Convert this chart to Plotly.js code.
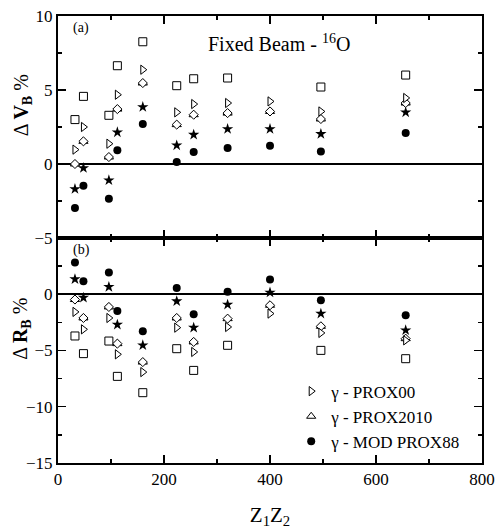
<!DOCTYPE html>
<html>
<head>
<meta charset="utf-8">
<script src="https://cdn.plot.ly/plotly-3.0.1.min.js"></script>
<style>html,body{margin:0;padding:0;background:#fff;}#chart{width:495px;height:529px;}</style>
</head>
<body>
<div id="chart"></div>
<script>
// Z1Z2 values (16O beam on various targets)
const z1z2 = [32, 48, 96, 112, 160, 224, 256, 320, 400, 496, 656];

// Panel (a): Delta V_B %
const vSquare   = [3.0, 4.57, 3.29, 6.64, 8.26, 5.29, 5.76, 5.81, null, 5.2, 6.01];
const vProx00   = [0.97, 2.5, 1.37, 4.68, 6.37, 3.49, 4.05, 4.12, 4.23, 3.55, 4.46];
const vProx2010 = [0.0, 1.53, 0.47, 3.71, 5.47, 2.66, 3.33, 3.44, 3.55, 3.04, 4.12];
const vDiamond  = [0.0, 1.53, 0.47, 3.71, 5.47, 2.66, 3.33, 3.44, 3.55, 3.04, 4.12];
const vStar     = [-1.69, -0.27, -1.1, 2.14, 3.85, 1.26, 1.98, 2.36, 2.36, 2.03, 3.49];
const vMod88    = [-2.97, -1.47, -2.35, 0.92, 2.7, 0.13, 0.81, 1.08, 1.24, 0.85, 2.09];

// Panel (b): Delta R_B %
const rSquare   = [-3.71, -5.28, -4.16, -7.3, -8.75, -4.84, -6.77, -4.54, null, -4.99, -5.73];
const rProx00   = [-1.57, -3.12, -2.11, -5.34, -6.92, -2.97, -5.13, -2.91, -1.72, -3.44, -4.1];
const rProx2010 = [-0.47, -2.11, -1.13, -4.39, -6.03, -2.11, -4.24, -2.17, -0.98, -2.85, -3.95];
const rDiamond  = [-0.47, -2.11, -1.13, -4.39, -6.03, -2.11, -4.24, -2.17, -0.98, -2.85, -3.95];
const rStar     = [1.34, -0.3, 0.65, -2.7, -4.54, -0.62, -2.97, -0.92, 0.15, -1.72, -3.2];
const rMod88    = [2.82, 1.16, 1.93, -1.48, -3.3, 0.56, -1.78, 0.21, 1.31, -0.53, -1.87];

const names = ['γ - PROX00', 'γ - PROX2010', 'γ - MOD PROX88'];
const tickX = [0, 200, 400, 600, 800];

const openM = (sym, size) => ({symbol: sym, size: size, color: 'white', line: {color: 'black', width: 1}});
const fillM = (sym, size) => ({symbol: sym, size: size, color: 'black', line: {color: 'black', width: 0}});

function panel(xa, ya, sq, p00, p2010, dia, st, m88, showLeg) {
  return [
    {x: z1z2, y: sq, xaxis: xa, yaxis: ya, mode: 'markers', marker: openM('square', 8), showlegend: false},
    {x: z1z2, y: p2010, xaxis: xa, yaxis: ya, mode: 'markers', marker: openM('triangle-up', 8), name: names[1], legendrank: 2, showlegend: showLeg},
    {x: z1z2, y: dia, xaxis: xa, yaxis: ya, mode: 'markers', marker: openM('diamond', 7), showlegend: false},
    {x: z1z2, y: p00, xaxis: xa, yaxis: ya, mode: 'markers', marker: openM('triangle-right', 8), name: names[0], legendrank: 1, showlegend: showLeg},
    {x: z1z2, y: st, xaxis: xa, yaxis: ya, mode: 'markers', marker: fillM('star', 8.5), showlegend: false},
    {x: z1z2, y: m88, xaxis: xa, yaxis: ya, mode: 'markers', marker: fillM('circle', 8), name: names[2], legendrank: 3, showlegend: showLeg}
  ];
}

const data = [].concat(
  panel('x2', 'y2', vSquare, vProx00, vProx2010, vDiamond, vStar, vMod88, false),
  panel('x', 'y', rSquare, rProx00, rProx2010, rDiamond, rStar, rMod88, true)
);

const FAM = '"Liberation Serif", "Times New Roman", "DejaVu Serif", serif';
const F = (size) => ({family: FAM, size: size, color: 'black'});
const axBase = {
  showline: true, linewidth: 2, linecolor: 'black', mirror: 'ticks',
  ticks: 'inside', ticklen: 8, tickwidth: 1.5, tickcolor: 'black',
  showgrid: false, zeroline: false,
  tickfont: F(17)
};
const minorX = {dtick: 100, ticklen: 4, tickwidth: 1.5, ticks: 'inside', tickcolor: 'black'};
const minorY = {dtick: 2.5, ticklen: 4, tickwidth: 1.5, ticks: 'inside', tickcolor: 'black'};
const split = 0.5034;

const layout = {
  width: 495, height: 529,
  margin: {l: 58, r: 13, t: 16, b: 66},
  paper_bgcolor: 'white', plot_bgcolor: 'white',
  font: F(16),
  showlegend: true,
  legend: {x: 0.55, y: 0.2, xanchor: 'left', yanchor: 'top', bgcolor: 'rgba(0,0,0,0)',
           font: F(17), tracegroupgap: 0, traceorder: 'normal'},
  xaxis: Object.assign({}, axBase, {anchor: 'y', range: [0, 800], tickvals: tickX, ticktext: tickX.map(String),
          minor: minorX,
          title: {text: 'Z<sub>1</sub>Z<sub>2</sub>', font: F(21)}}),
  xaxis2: Object.assign({}, axBase, {anchor: 'y2', matches: 'x', range: [0, 800], tickvals: tickX, showticklabels: false,
          minor: minorX}),
  yaxis: Object.assign({}, axBase, {anchor: 'x', domain: [0, split], range: [-15, 5], tickvals: [-15, -10, -5, 0],
          minor: minorY, zeroline: true, zerolinecolor: 'black', zerolinewidth: 2}),
  yaxis2: Object.assign({}, axBase, {anchor: 'x2', domain: [split, 1], range: [-5, 10], tickvals: [-5, 0, 5, 10],
          minor: minorY, zeroline: true, zerolinecolor: 'black', zerolinewidth: 2}),
  annotations: [
    {xref: 'paper', yref: 'paper', x: -0.085, y: 0.80, xanchor: 'center', yanchor: 'middle',
     text: 'Δ <b>V<sub>B</sub></b> %', textangle: -90, showarrow: false, font: F(20)},
    {xref: 'paper', yref: 'paper', x: -0.085, y: 0.30, xanchor: 'center', yanchor: 'middle',
     text: 'Δ <b>R<sub>B</sub></b> %', textangle: -90, showarrow: false, font: F(20)},
    {xref: 'paper', yref: 'paper', x: 0.03, y: 0.995, xanchor: 'left', yanchor: 'top', text: '(a)',
     showarrow: false, font: F(14)},
    {xref: 'paper', yref: 'paper', x: 0.03, y: split - 0.005, xanchor: 'left', yanchor: 'top', text: '(b)',
     showarrow: false, font: F(14)},
    {xref: 'paper', yref: 'paper', x: 0.522, y: 0.94, xanchor: 'center', yanchor: 'middle', text: 'Fixed Beam - <sup>16</sup>O',
     showarrow: false, font: F(20)}
  ]
};

Plotly.newPlot('chart', data, layout, {displayModeBar: false, staticPlot: true});
</script>
</body>
</html>
